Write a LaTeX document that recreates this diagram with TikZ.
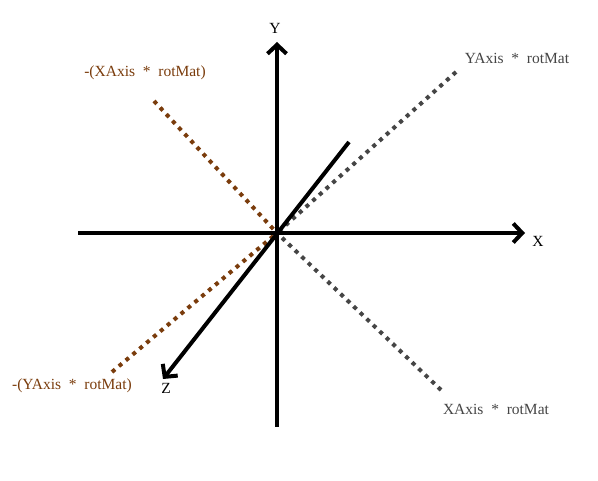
\documentclass[tikz,border=0pt]{standalone}
\usepackage{fontspec}
\setmainfont{Liberation Serif}
\usetikzlibrary{arrows.meta}
\definecolor{brn}{HTML}{7A3C0C}
\definecolor{gry}{HTML}{454545}
\begin{document}
\begin{tikzpicture}[x=1pt,y=-1pt,
  axis/.style={line width=4pt,-{Straight Barb[length=9pt,width=19pt,line width=4pt]}},
  dotsb/.style={draw=brn,line width=4pt,dash pattern=on 4pt off 5pt},
  dotsg/.style={draw=gry,line width=4pt,dash pattern=on 4pt off 5pt},
  lbl/.style={font=\fontsize{15.5}{18}\selectfont,inner sep=0pt}]
\useasboundingbox (0,0) rectangle (598,481);
\coordinate (o) at (277,233);
\coordinate (xl) at (78,233);
\coordinate (xr) at (525,233);
\coordinate (yb) at (277,427);
\coordinate (yt) at (277,42);
\coordinate (zt) at (349,142);
\coordinate (zb) at (163,379);
\coordinate (ga) at (456,72);
\coordinate (gb) at (441,390);
\coordinate (ba) at (154,101);
\coordinate (bb) at (112,372);
\draw[dotsb] (ba) -- (o);
\draw[dotsb] (bb) -- (o);
\draw[dotsg] (ga) -- (o);
\draw[dotsg] (gb) -- (o);
\draw[axis] (xl) -- (xr);
\draw[axis] (yb) -- (yt);
\draw[axis] (zt) -- (zb);
\node[lbl] (ly) at (275,28) {Y};
\node[lbl] (lx) at (538,241) {X};
\node[lbl] (lz) at (166,388) {Z};
\node[lbl,text=gry] (lg1) at (517,58) {YAxis \ * \ rotMat};
\node[lbl,text=gry] (lg2) at (496,409) {XAxis \ * \ rotMat};
\node[lbl,text=brn] (lb1) at (145,73) {-(XAxis \ * \ rotMat)};
\node[lbl,text=brn] (lb2) at (72,386) {-(YAxis \ * \ rotMat)};
\end{tikzpicture}
\end{document}
